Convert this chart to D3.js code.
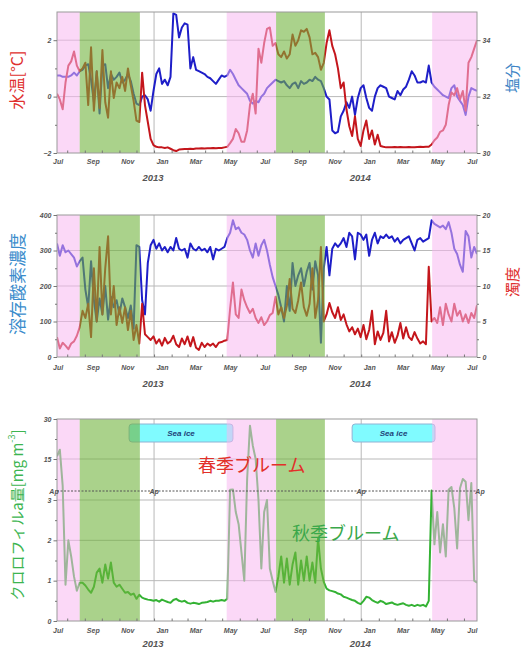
<!DOCTYPE html>
<html>
<head>
<meta charset="utf-8">
<script src="https://cdn.jsdelivr.net/npm/d3@7"></script>
<style>
body { margin: 0; background: #fff; }
</style>
</head>
<body>
<div class="chart"></div>
<script>
// page size
var width = 523;
var height = 650;

// samples every 5 days from mid July 2012
var startDay = new Date(2012, 6, 14);
var endDay = new Date(2014, 6, 24);
var stepDays = 5;

// water temperature [°C]
var temp = [0.1,-0.1,-0.45,0.5,1.1,1.25,1.6,1.1,0.9,1.0,
  1.2,-0.3,1.75,-0.5,0.9,-0.4,1.65,-0.2,-0.75,0.9,
  -0.05,0.5,0.3,0.7,0.2,1.0,0.4,-0.15,-0.85,-0.9,
  0.85,-0.3,-0.9,-1.5,-1.72,-1.78,-1.8,-1.8,-1.82,-1.8,
  -1.85,-1.9,-1.93,-1.88,-1.87,-1.86,-1.86,-1.85,-1.86,-1.84,
  -1.84,-1.83,-1.84,-1.83,-1.83,-1.82,-1.83,-1.82,-1.82,-1.8,
  -1.78,-1.65,-1.5,-1.15,-1.3,-1.6,-1.6,-1.2,-0.3,0.1,
  -0.6,1.7,1.2,1.9,2.4,2.45,1.8,1.9,1.5,1.4,
  1.6,1.35,1.5,2.2,1.8,2.0,2.35,2.3,2.4,2.1,
  1.5,1.55,1.4,0.95,1.2,1.9,2.35,1.8,1.5,1.0,
  0.3,0.5,-0.45,-1.05,-1.4,-0.7,-1.5,-1.75,-1.2,-0.85,
  -1.5,-1.2,-1.7,-1.35,-1.75,-1.78,-1.8,-1.8,-1.8,-1.79,
  -1.8,-1.79,-1.8,-1.8,-1.79,-1.8,-1.8,-1.79,-1.78,-1.79,
  -1.78,-1.78,-1.7,-1.55,-1.45,-1.25,-1.2,-1.0,-0.3,0.15,
  0.05,0.3,-0.1,0.2,-0.5,1.2,1.4,1.7,2.0];

// salinity
var salinity = [32.75,32.75,32.7,32.7,32.7,32.75,32.85,32.75,32.9,32.95,
  33.1,33.15,32.6,31.8,32.9,31.4,33.1,33.15,32.3,32.8,
  32.6,32.7,32.85,32.5,32.6,32.8,32.55,32.1,31.75,31.7,
  32.0,32.05,31.9,31.5,32.2,32.8,33.0,32.45,32.6,32.4,
  32.7,34.95,34.9,34.1,34.45,34.6,34.55,33.0,33.4,32.95,
  32.9,32.85,32.8,32.7,32.65,32.55,32.45,32.6,32.75,32.7,
  32.75,32.95,32.8,32.6,32.4,32.3,32.2,32.1,31.85,31.75,
  31.85,31.8,32.0,32.1,32.3,32.4,32.5,32.6,32.55,32.5,
  32.55,32.4,32.3,32.45,32.5,32.3,32.55,32.45,32.5,32.6,
  32.55,32.7,32.6,32.55,32.3,32.0,31.9,30.8,30.7,30.75,
  31.3,31.5,31.8,31.6,32.0,31.35,31.95,32.3,32.4,31.95,
  31.6,31.5,32.0,32.3,32.4,32.35,32.3,32.0,31.95,31.9,
  32.2,32.05,32.25,32.35,32.6,32.9,32.75,32.5,32.5,32.55,
  32.5,33.1,32.5,32.35,32.25,32.15,32.05,32.0,31.95,32.3,
  32.4,32.0,31.85,31.7,31.35,32.0,32.3,32.25,32.2];

// dissolved oxygen
var oxygen = [320,285,315,295,300,290,280,255,270,280,
  190,140,270,160,100,165,120,200,105,170,
  140,160,120,165,140,110,145,80,315,310,
  160,120,265,315,330,305,320,300,310,295,
  310,300,335,305,300,305,280,320,305,300,
  310,300,305,295,310,275,305,300,305,310,
  335,350,385,360,365,350,345,330,300,280,
  320,285,315,330,300,260,225,200,175,140,
  100,200,130,265,200,230,250,200,240,265,
  190,270,230,40,250,310,230,305,320,310,
  320,335,310,350,340,275,350,345,330,345,
  285,330,350,320,340,335,345,335,340,325,
  335,320,330,335,340,320,300,330,335,325,
  330,335,385,375,370,365,370,360,380,350,
  305,290,260,240,355,340,280,310,290];

// turbidity
var turbidity = [2.8,1.2,2.0,1.6,1.1,1.9,2.2,3.0,4.2,6.5,
  5.5,7.5,2.8,12.5,5.0,15.5,6.0,12.5,17.0,6.0,
  10.0,4.5,7.0,4.8,7.0,3.8,6.5,2.4,4.5,1.9,
  7.5,3.2,2.8,2.4,2.9,1.9,2.5,1.6,2.7,1.9,
  2.2,3.0,1.8,1.4,2.6,1.8,2.9,1.5,2.8,1.3,
  1.0,2.0,1.4,1.9,1.6,1.9,1.4,2.0,2.1,2.3,
  2.4,6.8,10.5,6.0,5.5,9.5,8.0,7.0,6.2,6.8,
  5.5,4.8,5.6,4.5,5.0,5.9,6.2,8.5,6.0,7.0,
  5.5,7.2,11.0,6.8,6.2,8.0,10.5,7.0,5.8,7.5,
  12.5,5.5,8.0,15.5,5.0,6.0,7.6,6.3,5.5,7.0,
  5.2,6.0,4.6,3.6,4.2,3.2,4.0,2.8,4.5,2.5,
  3.8,6.5,1.8,3.6,2.4,3.4,6.5,2.2,3.5,2.0,
  3.0,4.8,2.6,4.2,2.8,2.4,3.5,2.6,1.9,2.2,
  1.8,12.7,5.0,5.5,4.8,7.0,4.5,7.5,6.0,5.0,
  7.5,5.8,6.5,5.0,6.0,4.8,6.2,5.5,7.3];

// chlorophyll a [mg m-3]
var chl = [16,18.5,5.0,0.9,2.0,1.6,1.1,0.75,0.95,0.95,
  0.88,0.78,0.7,0.85,1.2,1.3,0.95,1.4,1.05,1.45,
  0.95,0.85,0.9,0.8,0.7,0.72,0.65,0.68,0.55,0.65,
  0.58,0.55,0.53,0.52,0.5,0.52,0.48,0.53,0.5,0.47,
  0.45,0.52,0.55,0.5,0.48,0.5,0.45,0.43,0.45,0.44,
  0.42,0.45,0.46,0.47,0.5,0.48,0.5,0.5,0.52,0.5,
  0.55,3.5,3.6,2.7,2.4,1.7,1.0,7.5,27.5,20,
  15,3.0,1.3,2.7,3.0,1.3,1.0,0.72,1.1,1.6,
  0.95,1.55,0.9,1.4,1.7,0.9,1.5,1.0,1.6,1.0,
  1.45,0.95,2.05,1.3,0.97,0.8,0.76,0.74,0.72,0.68,
  0.66,0.6,0.58,0.55,0.52,0.5,0.45,0.42,0.5,0.6,
  0.58,0.52,0.48,0.45,0.5,0.47,0.42,0.44,0.46,0.42,
  0.4,0.42,0.44,0.4,0.38,0.4,0.37,0.4,0.38,0.4,
  0.36,0.5,3.2,1.9,2.7,1.7,2.4,1.6,3.5,4.5,
  2.8,1.8,4.0,7.5,6.5,2.5,6.0,1.0,0.95];

// seasons and sea ice
var springPeriods = [["2012-07-14","2012-08-23"],["2013-05-09","2013-08-04"],["2014-05-06","2014-07-24"]];
var autumnPeriods = [["2012-08-23","2012-12-07"],["2013-08-04","2013-10-29"]];
var seaIcePeriods = [["2012-11-18","2013-05-20"],["2013-12-16","2014-05-11"]];

// axis labels
var monthLabelDates = ["2012-07-15","2012-09-15","2012-11-15","2013-01-15","2013-03-15","2013-05-15",
  "2013-07-15","2013-09-15","2013-11-15","2014-01-15","2014-03-15","2014-05-15","2014-07-15"];
var monthNames = ["Jul","Sep","Nov","Jan","Mar","May","Jul","Sep","Nov","Jan","Mar","May","Jul"];
var yearStarts = ["2013-01-01","2014-01-01"];
var yearNames = ["2013","2014"];

var parseDate = d3.timeParse("%Y-%m-%d");
var sampleDates = temp.map((d, i) => d3.timeDay.offset(startDay, i * stepDays));

var tickFont = "'Liberation Sans', Arial, sans-serif";
var jpFont = "'Noto Sans CJK JP', sans-serif";

const svg = d3.select(".chart")
  .append("svg")
  .attr("width", width)
  .attr("height", height);

var x = d3.scaleTime().domain([startDay, endDay]).range([57, 477]);
var xl = x.range()[0], xr = x.range()[1];

function periodRects(layer, data, p, color, op) {
  layer.selectAll(null)
    .data(data)
    .enter()
    .append("rect")
    .attr("x", d => x(parseDate(d[0])))
    .attr("width", d => x(parseDate(d[1])) - x(parseDate(d[0])))
    .attr("y", p.top)
    .attr("height", p.bottom - p.top)
    .attr("fill", color)
    .attr("fill-opacity", op);
}

function styleAxis(g) {
  g.select(".domain").remove();
  g.selectAll(".tick line").attr("stroke", "#777");
  g.selectAll(".tick text")
    .attr("font-family", tickFont)
    .attr("font-size", 7)
    .attr("font-weight", "bold")
    .attr("font-style", "italic")
    .attr("fill", "#555");
}

// builds grid, shading and frame, returns layers
function setupPanel(p, y, gridValues, id) {
  var g = svg.append("g");
  svg.append("clipPath").attr("id", "clip" + id)
    .append("rect")
    .attr("x", xl).attr("y", p.top)
    .attr("width", xr - xl).attr("height", p.bottom - p.top);

  var grid = g.append("g");
  grid.selectAll(null).data(gridValues).enter().append("line")
    .attr("x1", xl).attr("x2", xr)
    .attr("y1", d => y(d)).attr("y2", d => y(d))
    .attr("stroke", "#b9b9b9").attr("stroke-width", 1);
  grid.selectAll(null).data(yearStarts).enter().append("line")
    .attr("x1", d => x(parseDate(d))).attr("x2", d => x(parseDate(d)))
    .attr("y1", p.top).attr("y2", p.bottom)
    .attr("stroke", "#b9b9b9").attr("stroke-width", 1);

  var lines = g.append("g").attr("clip-path", "url(#clip" + id + ")");
  var under = g.append("g");
  var shade = g.append("g");
  periodRects(shade, springPeriods, p, "#f7b8f0", 0.55);
  periodRects(shade, autumnPeriods, p, "#72b43e", 0.6);

  var top = g.append("g");
  top.append("rect")
    .attr("x", xl).attr("y", p.top)
    .attr("width", xr - xl).attr("height", p.bottom - p.top)
    .attr("fill", "none").attr("stroke", "#9a9a9a").attr("stroke-width", 1);

  // month ticks and labels
  top.append("g")
    .attr("transform", "translate(0," + p.bottom + ")")
    .call(d3.axisBottom(x).ticks(d3.timeMonth.every(1)).tickSize(-2.5).tickFormat(""))
    .call(styleAxis);
  top.append("g")
    .attr("transform", "translate(0," + p.bottom + ")")
    .call(d3.axisBottom(x)
      .tickValues(monthLabelDates.map(parseDate))
      .tickFormat((d, i) => monthNames[i])
      .tickSize(0)
      .tickPadding(p.axisY - p.bottom - 3))
    .call(styleAxis);

  top.selectAll(null).data(yearStarts).enter().append("text")
    .attr("x", d => x(parseDate(d)) - 1)
    .attr("y", p.yearY + 3.5)
    .attr("text-anchor", "middle")
    .attr("font-family", tickFont)
    .attr("font-size", 9.5)
    .attr("font-weight", "bold")
    .attr("font-style", "italic")
    .attr("fill", "#555")
    .text((d, i) => yearNames[i]);

  return { lines: lines, under: under, top: top };
}

function leftAxis(layer, y, major, minor) {
  layer.append("g").attr("transform", "translate(" + xl + ",0)")
    .call(d3.axisLeft(y).tickValues(minor).tickSize(2).tickFormat(""))
    .call(styleAxis);
  layer.append("g").attr("transform", "translate(" + xl + ",0)")
    .call(d3.axisLeft(y).tickValues(major).tickSize(3.5).tickPadding(2).tickFormat(d3.format("d")))
    .call(styleAxis);
}

function rightAxis(layer, y, major, minor) {
  layer.append("g").attr("transform", "translate(" + xr + ",0)")
    .call(d3.axisRight(y).tickValues(minor).tickSize(2).tickFormat(""))
    .call(styleAxis);
  layer.append("g").attr("transform", "translate(" + xr + ",0)")
    .call(d3.axisRight(y).tickValues(major).tickSize(3.5).tickPadding(2).tickFormat(d3.format("d")))
    .call(styleAxis);
}

function yTitle(cx, cy, color, size, txt) {
  return svg.append("text")
    .attr("transform", "translate(" + cx + "," + cy + ") rotate(-90)")
    .attr("text-anchor", "middle")
    .attr("dominant-baseline", "central")
    .attr("font-family", jpFont)
    .attr("font-size", size)
    .attr("fill", color)
    .text(txt);
}

function drawLine(layer, values, y, color) {
  layer.append("path")
    .datum(values)
    .attr("fill", "none")
    .attr("stroke", color)
    .attr("stroke-width", 2)
    .attr("stroke-linejoin", "round")
    .attr("d", d3.line().x((d, i) => x(sampleDates[i])).y(d => y(d)));
}

var red = "#c4161c";
var blue = "#1e1ec8";
var green = "#34b234";

// ---- panel 1: temperature / salinity
var p1 = { top: 12, bottom: 153, axisY: 162, yearY: 177 };
var yTemp = d3.scaleLinear().domain([-2, 3]).range([p1.bottom, p1.top]);
var ySal = d3.scaleLinear().domain([30, 35]).range([p1.bottom, p1.top]);
var L1 = setupPanel(p1, yTemp, [0, 2], 1);
drawLine(L1.lines, salinity, ySal, blue);
drawLine(L1.lines, temp, yTemp, red);
leftAxis(L1.top, yTemp, [-2, 0, 2], [-1, 1]);
rightAxis(L1.top, ySal, [30, 32, 34], [31, 33]);
yTitle(16, 80, "#e0302e", 16, "水温[°C]");
yTitle(511, 78, "#3f86c6", 15, "塩分");

// ---- panel 2: dissolved oxygen / turbidity
var p2 = { top: 215, bottom: 357, axisY: 368, yearY: 383 };
var yDO = d3.scaleLinear().domain([0, 400]).range([p2.bottom, p2.top]);
var yTurb = d3.scaleLinear().domain([0, 20]).range([p2.bottom, p2.top]);
var L2 = setupPanel(p2, yDO, [100, 200, 300], 2);
drawLine(L2.lines, oxygen, yDO, blue);
drawLine(L2.lines, turbidity, yTurb, red);
leftAxis(L2.top, yDO, [0, 100, 200, 300, 400], [50, 150, 250, 350]);
rightAxis(L2.top, yTurb, [0, 5, 10, 15, 20], [2.5, 7.5, 12.5, 17.5]);
yTitle(16, 284, "#3a8ccc", 17, "溶存酸素濃度");
yTitle(511, 282, "#e0302e", 15, "濁度");

// ---- panel 3: chlorophyll (broken axis above 3)
var p3 = { top: 419, bottom: 621, axisY: 631, yearY: 643 };
var yChl = d3.scaleLinear().domain([0, 3, 3.0001, 30]).range([621, 500, 491, 419]);
var L3 = setupPanel(p3, yChl, [1, 2, 3, 15], 3);

var ice = L3.under.selectAll(null).data(seaIcePeriods).enter().append("g");
ice.append("rect")
  .attr("x", d => x(parseDate(d[0])))
  .attr("width", d => x(parseDate(d[1])) - x(parseDate(d[0])))
  .attr("y", 424).attr("height", 18)
  .attr("rx", 3)
  .attr("fill", "#80fbff")
  .attr("stroke", "#8fb2d4").attr("stroke-width", 1);
ice.append("text")
  .attr("x", d => (x(parseDate(d[0])) + x(parseDate(d[1]))) / 2)
  .attr("y", 436)
  .attr("text-anchor", "middle")
  .attr("font-family", tickFont)
  .attr("font-size", 8)
  .attr("font-weight", "bold")
  .attr("font-style", "italic")
  .attr("fill", "#1d3f78")
  .text("Sea ice");

drawLine(L3.lines, chl, yChl, green);

// break line
L3.top.append("line")
  .attr("x1", xl).attr("x2", xr)
  .attr("y1", yChl(3.0001)).attr("y2", yChl(3.0001))
  .attr("stroke", "#555").attr("stroke-width", 1)
  .attr("stroke-dasharray", "2,1.5");
var apX = [xl - 3, x(parseDate(yearStarts[0])), x(parseDate(yearStarts[1])), xr + 3];
L3.top.selectAll(null).data(apX).enter().append("text")
  .attr("x", d => d).attr("y", yChl(3.0001) + 2.5)
  .attr("text-anchor", "middle")
  .attr("font-family", tickFont)
  .attr("font-size", 7)
  .attr("font-weight", "bold")
  .attr("font-style", "italic")
  .attr("fill", "#555")
  .text("Ap");

leftAxis(L3.top, yChl, [0, 1, 2, 3, 15, 30], [0.5, 1.5, 2.5, 7.5, 22.5]);

L3.top.append("text")
  .attr("x", 198).attr("y", 472)
  .attr("font-family", jpFont).attr("font-size", 18)
  .attr("fill", "#e2302a")
  .text("春季ブルーム");
L3.top.append("text")
  .attr("x", 292).attr("y", 540)
  .attr("font-family", jpFont).attr("font-size", 18)
  .attr("fill", "#3aa84a")
  .text("秋季ブルーム");

var chlTitle = yTitle(16, 515, "#3db551", 15, "クロロフィルa量[mg m");
chlTitle.append("tspan").attr("dy", -5).attr("font-size", 9).text("-3");
chlTitle.append("tspan").attr("dy", 5).text("]");
</script>
</body>
</html>
